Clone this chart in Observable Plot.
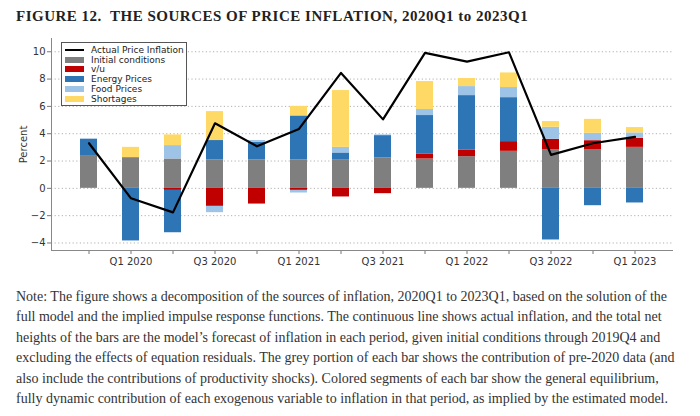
<!DOCTYPE html>
<html>
<head>
<meta charset="utf-8">
<script src="https://cdn.jsdelivr.net/npm/d3@7"></script>
<script src="https://cdn.jsdelivr.net/npm/@observablehq/plot@0.6"></script>
<style>
  body { margin:0; width:700px; height:416px; overflow:hidden; background:#fff; position:relative; }
  #title { position:absolute; left:16px; top:8px; font: bold 15px "Liberation Serif", serif; color:#222; white-space:nowrap; letter-spacing:0.5px; }
  #chart { position:absolute; left:0; top:30px; }
  #legend { position:absolute; left:61px; top:42px; width:124px; height:62px; border:1px solid #555; background:#fff; font: 9px "DejaVu Sans", sans-serif; color:#222; box-sizing:content-box; }
  #legend .row { position:absolute; left:0; height:10px; line-height:10px; white-space:nowrap; }
  #legend .sw { position:absolute; left:3px; width:19px; }
  #legend .lab { position:absolute; left:29px; top:0; }
  #note { position:absolute; left:16px; top:287px; font: 14px "Liberation Serif", serif; color:#333; }
  #note div { white-space:nowrap; height:20.4px; line-height:20.4px; }
</style>
</head>
<body>
<div id="title">FIGURE 12.&nbsp; THE SOURCES OF PRICE INFLATION, 2020Q1 to 2023Q1</div>
<div id="chart"></div>
<div id="legend"></div>
<div id="note">
<div>Note: The figure shows a decomposition of the sources of inflation, 2020Q1 to 2023Q1, based on the solution of the</div>
<div>full model and the implied impulse response functions. The continuous line shows actual inflation, and the total net</div>
<div>heights of the bars are the model’s forecast of inflation in each period, given initial conditions through 2019Q4 and</div>
<div>excluding the effects of equation residuals. The grey portion of each bar shows the contribution of pre-2020 data (and</div>
<div>also include the contributions of productivity shocks). Colored segments of each bar show the general equilibrium,</div>
<div>fully dynamic contribution of each exogenous variable to inflation in that period, as implied by the estimated model.</div>
</div>
<script>
const quarters = ["2019Q4","2020Q1","2020Q2","2020Q3","2020Q4","2021Q1","2021Q2","2021Q3","2021Q4","2022Q1","2022Q2","2022Q3","2022Q4","2023Q1"];
const tickLabels = {"2020Q1":"Q1 2020","2020Q3":"Q3 2020","2021Q1":"Q1 2021","2021Q3":"Q3 2021","2022Q1":"Q1 2022","2022Q3":"Q3 2022","2023Q1":"Q1 2023"};
const initialConditions = [2.4, 2.25, 2.15, 2.08, 2.08, 2.08, 2.1, 2.22, 2.15, 2.32, 2.71, 2.84, 2.81, 3.0];
const vu                = [0, 0, -0.15, -1.32, -1.15, -0.15, -0.63, -0.39, 0.37, 0.49, 0.71, 0.75, 0.68, 0.66];
const energyPrices      = [1.2, -3.85, -3.1, 1.42, 1.3, 3.22, 0.49, 1.64, 2.81, 3.98, 3.22, -3.78, -1.27, -1.07];
const foodPrices        = [0, 0, 0.98, -0.46, 0.12, -0.19, 0.41, 0.05, 0.44, 0.66, 0.74, 0.88, 0.54, 0.4];
const shortages         = [0, 0.75, 0.78, 2.12, 0, 0.7, 4.16, 0, 2.05, 0.59, 1.07, 0.42, 1.02, 0.39];
const actualInflation   = [3.3, -0.73, -1.76, 4.76, 3.08, 4.35, 8.45, 5.05, 9.92, 9.28, 9.96, 2.45, 3.3, 3.77];
const yTicks = [-4, -2, 0, 2, 4, 6, 8, 10];

const seriesNames = ["Initial conditions", "v/u", "Energy Prices", "Food Prices", "Shortages"];
const seriesColors = ["#7f7f7f", "#c00000", "#2e75b6", "#9dc3e6", "#ffd966"];
const seriesValues = [initialConditions, vu, energyPrices, foodPrices, shortages];

const rows = [];
seriesNames.forEach((s, k) => quarters.forEach((q, i) => rows.push({quarter: q, series: s, value: seriesValues[k][i]})));
const lineRows = quarters.map((q, i) => ({quarter: q, actual: actualInflation[i]}));

const yDomain = [-4.55, 10.97];

const chart = Plot.plot({
  width: 700, height: 255,
  marginTop: 8, marginBottom: 35, marginLeft: 51, marginRight: 27,
  style: {fontFamily: "DejaVu Sans", fontSize: "10px", color: "#333", background: "transparent"},
  x: {type: "band", domain: quarters, paddingInner: 0.59, paddingOuter: 0.647, label: null},
  y: {domain: yDomain, label: null},
  color: {domain: seriesNames, range: seriesColors},
  marks: [
    Plot.gridY(yTicks, {stroke: "#b0b0b0", strokeOpacity: 1, strokeDasharray: "1.2,2.4", strokeWidth: 1}),
    Plot.barY(rows, {x: "quarter", y: "value", fill: "series"}),
    Plot.line(lineRows, {x: "quarter", y: "actual", stroke: "black", strokeWidth: 2.2}),
    Plot.axisX({tickSize: 4, tickPadding: 3, tickFormat: d => tickLabels[d] || "", label: null, stroke: "#777"}),
    Plot.axisY({ticks: yTicks, tickSize: 4, tickPadding: 2, label: "Percent", labelAnchor: "center", labelArrow: false, labelOffset: 32, stroke: "#777"}),
    Plot.ruleY([yDomain[0]], {stroke: "#888"}),
    Plot.frame({anchor: "left", stroke: "#888"})
  ]
});
document.getElementById("chart").appendChild(chart);

// legend
const legend = document.getElementById("legend");
const entries = [{name: "Actual Price Inflation", line: true}].concat(seriesNames.map((n, i) => ({name: n, color: seriesColors[i]})));
entries.forEach((e, i) => {
  const row = document.createElement("div");
  row.className = "row";
  row.style.top = (2 + i * 9.7) + "px";
  const sw = document.createElement("div");
  sw.className = "sw";
  if (e.line) { sw.style.top = "4px"; sw.style.height = "2px"; sw.style.background = "#000"; }
  else { sw.style.top = "2px"; sw.style.height = "6px"; sw.style.background = e.color; }
  const lab = document.createElement("div");
  lab.className = "lab";
  lab.textContent = e.name;
  row.appendChild(sw); row.appendChild(lab);
  legend.appendChild(row);
});
</script>
</body>
</html>
